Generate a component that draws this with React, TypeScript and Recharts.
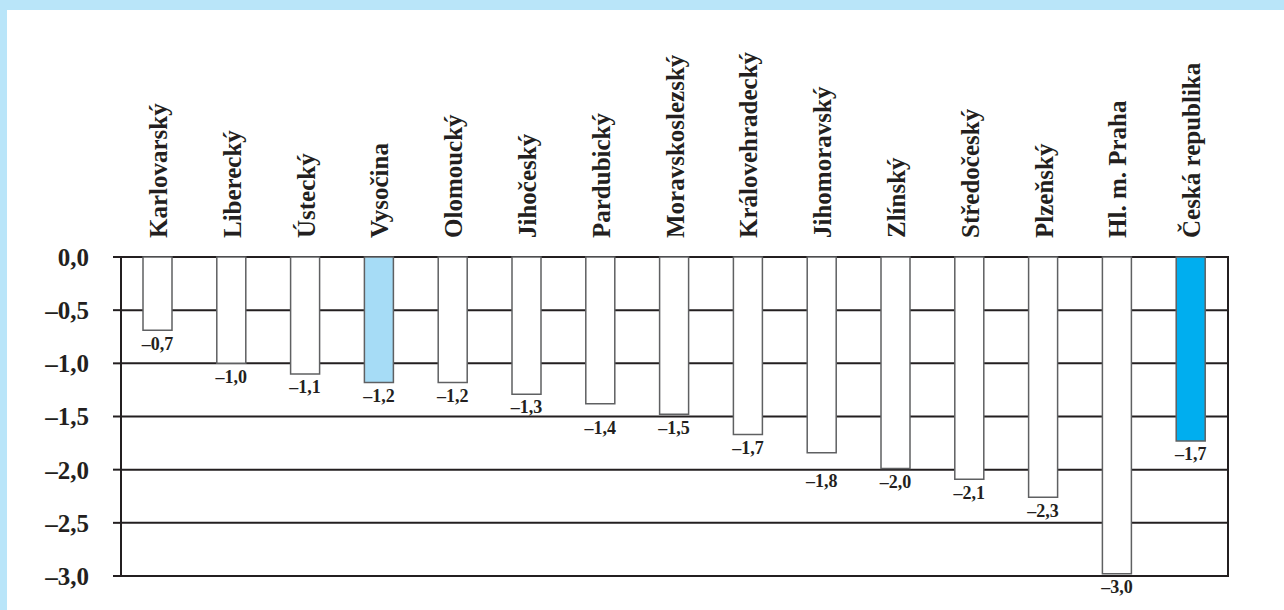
import { Bar, BarChart, CartesianGrid, Cell, LabelList, XAxis, YAxis } from "recharts";

const regions = [
  "Karlovarský",
  "Liberecký",
  "Ústecký",
  "Vysočina",
  "Olomoucký",
  "Jihočeský",
  "Pardubický",
  "Moravskoslezský",
  "Královehradecký",
  "Jihomoravský",
  "Zlínský",
  "Středočeský",
  "Plzeňský",
  "Hl. m. Praha",
  "Česká republika",
];

const changes = [
  -0.69, -1.0, -1.1, -1.18, -1.18, -1.29, -1.38, -1.48, -1.67, -1.84, -1.99,
  -2.09, -2.26, -2.98, -1.73,
];

const yTicks = [0, -0.5, -1.0, -1.5, -2.0, -2.5, -3.0];
const GRID_STEP = 0.5;

const highlightFill: Record<string, string> = {
  Vysočina: "#a6dcf6",
  "Česká republika": "#00aeef",
};

const INK = "#231f20";
const FONT = "'Liberation Serif', 'DejaVu Serif', serif";

const CHART_W = 1284;
const CHART_H = 610;
const MARGIN = { top: 0, right: 56, bottom: 34, left: 0 };
const X_AXIS_H = 257;

// value -> "–1,2" (en dash, decimal comma)
const fmt = (v: number) => {
  const s = Math.abs(v).toFixed(1).replace(".", ",");
  return v < 0 && s !== "0,0" ? `\u2013${s}` : s;
};

const data = regions.map((region, i) => ({ region, value: changes[i] }));

function RegionTick(props: any) {
  const { x, y, payload } = props;
  return (
    <text
      x={x}
      y={y}
      dy="0.36em"
      transform={`rotate(-90, ${x}, ${y})`}
      textAnchor="start"
      fill={INK}
      style={{ fontFamily: FONT, fontWeight: 700, fontSize: 25 }}
    >
      {payload.value}
    </text>
  );
}

// label under the bar end, pushed below a gridline if it would sit on it
function ValueLabel(props: any) {
  const { x, y, width, height, value } = props;
  const v = Number(value);
  const top = Math.min(Number(y), Number(y) + Number(height));
  const bottom = Math.max(Number(y), Number(y) + Number(height));
  const pxPerUnit = Math.abs(Number(height)) / Math.abs(v || 1);
  const step = GRID_STEP * pxPerUnit;
  let cy = bottom + 13;
  const k = Math.round((cy - top) / step);
  const g = top + k * step;
  if (Math.abs(cy - g) < 8) cy = g + 11;
  return (
    <text
      x={Number(x) + Number(width) / 2}
      y={cy}
      dy="0.35em"
      textAnchor="middle"
      fill={INK}
      style={{ fontFamily: FONT, fontWeight: 700, fontSize: 18 }}
    >
      {fmt(v)}
    </text>
  );
}

export default function App() {
  return (
    <div
      style={{
        position: "absolute",
        left: 0,
        top: 0,
        width: CHART_W,
        height: CHART_H,
        background: "#b9e5f9",
        fontFamily: FONT,
      }}
    >
      <style>{"body{margin:0}"}</style>
      <div
        style={{
          position: "absolute",
          left: 7,
          top: 10,
          right: 0,
          bottom: 0,
          background: "#ffffff",
        }}
      />
      <div style={{ position: "absolute", left: 0, top: 0 }}>
        <BarChart
          width={CHART_W}
          height={CHART_H}
          data={data}
          margin={MARGIN}
          barSize={29}
        >
          <CartesianGrid vertical={false} stroke={INK} strokeWidth={2} />
          <XAxis
            dataKey="region"
            orientation="top"
            height={X_AXIS_H}
            axisLine={false}
            tickLine={false}
            tickSize={0}
            tickMargin={19}
            interval={0}
            tick={<RegionTick />}
          />
          <YAxis
            domain={[-3, 0]}
            ticks={yTicks}
            interval={0}
            width={121}
            axisLine={{ stroke: INK, strokeWidth: 2 }}
            tickLine={{ stroke: INK, strokeWidth: 2 }}
            tickSize={8}
            tickMargin={24}
            tickFormatter={(v: number) => fmt(v)}
            tick={{
              fill: INK,
              style: { fontFamily: FONT, fontWeight: 700, fontSize: 25 },
            }}
          />
          <Bar
            dataKey="value"
            fill="#ffffff"
            stroke="#5f6062"
            strokeWidth={1.5}
            isAnimationActive={false}
          >
            {data.map((d) => (
              <Cell key={d.region} fill={highlightFill[d.region] ?? "#ffffff"} />
            ))}
            <LabelList dataKey="value" content={<ValueLabel />} />
          </Bar>
        </BarChart>
      </div>
      {/* right frame of the plot area */}
      <div
        style={{
          position: "absolute",
          left: CHART_W - MARGIN.right - 1,
          top: MARGIN.top + X_AXIS_H - 1,
          width: 2,
          height: CHART_H - MARGIN.top - MARGIN.bottom - X_AXIS_H + 2,
          background: INK,
        }}
      />
    </div>
  );
}
